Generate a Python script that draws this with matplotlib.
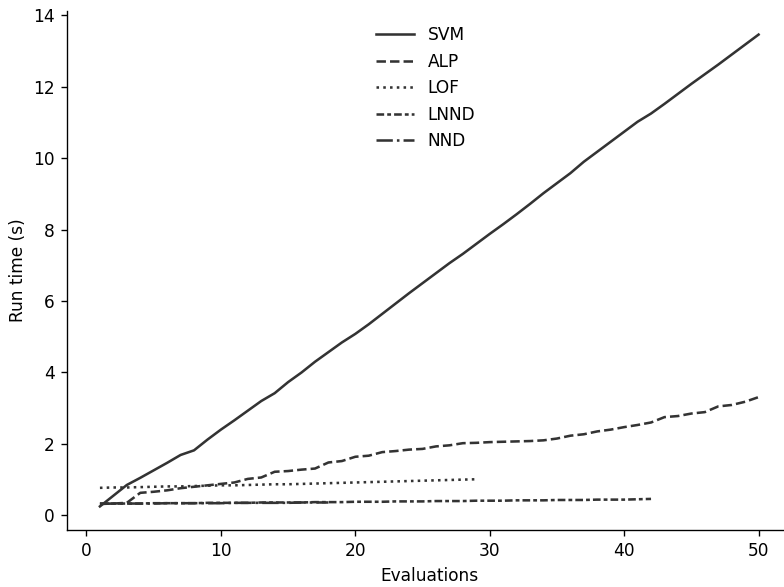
import matplotlib
matplotlib.use("Agg")
import matplotlib.pyplot as plt
import numpy as np

svm = [0.25, 0.55, 0.85, 1.05, 1.26, 1.47, 1.69, 1.82, 2.12, 2.4, 2.66, 2.93, 3.2, 3.42, 3.73,
       4.0, 4.3, 4.57, 4.84, 5.08, 5.35, 5.64, 5.93, 6.22, 6.5, 6.78, 7.06, 7.32, 7.6, 7.88,
       8.15, 8.43, 8.72, 9.02, 9.3, 9.58, 9.9, 10.18, 10.46, 10.74, 11.02, 11.25, 11.52, 11.8,
       12.08, 12.35, 12.62, 12.9, 13.18, 13.46]
alp = [0.33, 0.33, 0.35, 0.63, 0.66, 0.70, 0.76, 0.80, 0.84, 0.88, 0.92, 1.02, 1.06, 1.22, 1.24,
       1.28, 1.31, 1.48, 1.52, 1.64, 1.67, 1.77, 1.80, 1.84, 1.86, 1.93, 1.96, 2.02, 2.03, 2.05,
       2.06, 2.07, 2.08, 2.10, 2.15, 2.23, 2.27, 2.35, 2.40, 2.47, 2.53, 2.60, 2.75, 2.78, 2.85,
       2.89, 3.05, 3.09, 3.18, 3.31]
lof = [0.77, 0.78, 0.78, 0.79, 0.80, 0.81, 0.81, 0.82, 0.83, 0.84, 0.84, 0.85, 0.86, 0.87, 0.87,
       0.88, 0.89, 0.90, 0.91, 0.92, 0.93, 0.94, 0.95, 0.96, 0.97, 0.98, 0.99, 1.00, 1.01]
lnnd = [0.32, 0.33, 0.33, 0.33, 0.34, 0.34, 0.34, 0.34, 0.35, 0.35, 0.35, 0.35, 0.36, 0.36, 0.36,
        0.36, 0.37, 0.37, 0.37, 0.38, 0.38, 0.38, 0.39, 0.39, 0.39, 0.40, 0.40, 0.40, 0.41, 0.41,
        0.41, 0.42, 0.42, 0.42, 0.43, 0.43, 0.43, 0.44, 0.44, 0.44, 0.45, 0.46]
nnd = [0.32, 0.33, 0.33, 0.33, 0.33, 0.34, 0.34, 0.34, 0.34, 0.34, 0.35, 0.35, 0.35, 0.35, 0.35,
       0.36, 0.36, 0.36]

series = [("SVM", svm, "-"), ("ALP", alp, "--"), ("LOF", lof, ":"),
          ("LNND", lnnd, (0, (3, 1.2, 1.5, 1.2))), ("NND", nnd, "-.")]

dpi = 122.5
fig = plt.figure(figsize=(784 / dpi, 587 / dpi), dpi=dpi)
ax = fig.add_axes([67 / 784, 57 / 587, 724.5 / 784, 519 / 587])
color = "#333333"
for name, vals, ls in series:
    x = np.arange(1, len(vals) + 1)
    ax.plot(x, vals, linestyle=ls, color=color, lw=1.5, label=name)

ax.spines["top"].set_visible(False)
ax.spines["right"].set_visible(False)
ax.set_xlabel("Evaluations")
ax.set_ylabel("Run time (s)")
ax.set_xticks([0, 10, 20, 30, 40, 50])
ax.set_yticks([0, 2, 4, 6, 8, 10, 12, 14])
ax.legend(loc="upper center", frameon=False, handlelength=2.25,
          bbox_to_anchor=(0.495, 1.0))
fig.savefig("out.png", dpi=dpi)
